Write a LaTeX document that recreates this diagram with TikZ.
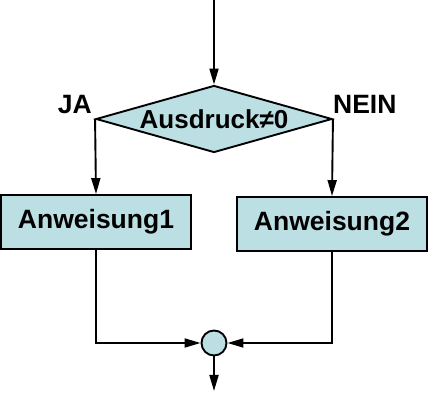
\documentclass[tikz,border=0pt]{standalone}
\usepackage{fontspec}
\setmainfont{Liberation Sans}
\usetikzlibrary{positioning, arrows.meta, shapes.geometric}
\definecolor{flowfill}{HTML}{BBDFE3}

\tikzset{
  flowline/.style={line width=1.9pt, -{Triangle[length=16pt, width=9pt]}},
  stmtbox/.style={draw, line width=1.9pt, fill=flowfill, minimum width=190pt, minimum height=54pt, inner sep=0pt, font=\fontsize{26.5}{30}\selectfont\bfseries},
  condbox/.style={draw, diamond, aspect=3.52, line width=1.9pt, fill=flowfill, minimum width=236pt, minimum height=67pt, inner sep=0pt, font=\fontsize{26}{30}\selectfont\bfseries},
  joinpt/.style={draw, circle, line width=1.9pt, fill=flowfill, minimum size=25pt, inner sep=0pt},
  branchlbl/.style={inner sep=0pt, font=\fontsize{26.5}{30}\selectfont\bfseries}
}

\begin{document}
\begin{tikzpicture}[x=1pt, y=-1pt]
    \useasboundingbox (0,0) rectangle (431,411);
    \coordinate (start) at (214,0);
    \node[condbox] (cond) at (214,119) {Ausdruck≠0};
    \node[branchlbl, above left=5pt and 3pt of cond.west] (ja) {JA};
    \node[branchlbl, above right=5pt and 0pt of cond.east] (nein) {NEIN};
    \node[stmtbox] (stmt1) at (96,222) {Anweisung1};
    \node[stmtbox] (stmt2) at (332,224) {Anweisung2};
    \node[joinpt] (join) at (214,343) {};
    \coordinate (end) at (214,391);

    \draw[flowline] (start) -- (cond.north);
    \draw[flowline] (cond.west) -- (stmt1.north);
    \draw[flowline] (cond.east) -- (stmt2.north);
    \draw[flowline] (stmt1.south) |- (join.west);
    \draw[flowline] (stmt2.south) |- (join.east);
    \draw[flowline] (join.south) -- (end);
  \end{tikzpicture}
\end{document}
